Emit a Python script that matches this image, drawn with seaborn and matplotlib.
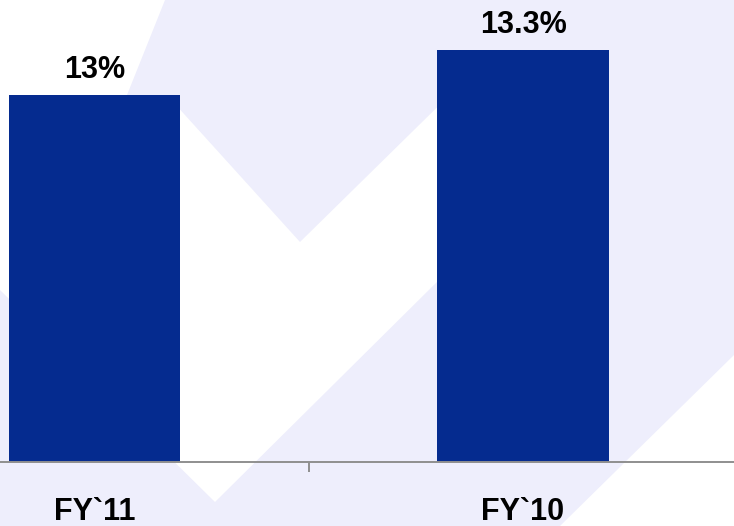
import matplotlib
matplotlib.use("Agg")
import matplotlib.pyplot as plt
from matplotlib.patches import Polygon
import seaborn as sns
import pandas as pd

# ---- data ----
categories = ["FY`11", "FY`10"]
values = [13.0, 13.3]
value_labels = ["13%", "13.3%"]

BAR_COLOR = "#052B8F"
BG_COLOR = "#EEEEFC"

sns.set_style("white")
plt.rcParams["font.family"] = ["Liberation Sans", "DejaVu Sans"]

W, H = 734, 526
fig = plt.figure(figsize=(W / 100, H / 100), dpi=100)
fig.patch.set_facecolor(BG_COLOR)

def px(points):
    return [(x / W, 1 - y / H) for x, y in points]

# background watermark (white chevron bands)
wm_main = [(0, 0), (165, 0), (125, 100), (175, 104), (300, 242), (470, 75),
           (560, 160), (215, 502), (0, 290)]
wm_corner = [(734, 355), (734, 526), (560, 526)]
for poly in (wm_main, wm_corner):
    fig.patches.append(Polygon(px(poly), closed=True, transform=fig.transFigure,
                               facecolor="white", edgecolor="none", zorder=-5))

ax = fig.add_axes([0, 64 / H, 1, 462 / H])
ax.set_zorder(1)
ax.patch.set_alpha(0)

df = pd.DataFrame({"cat": categories, "val": values})
sns.barplot(data=df, x="cat", y="val", order=categories, color=BAR_COLOR,
            saturation=1, width=0.4, linewidth=0, ax=ax)

ax.set_xlim(-0.2205, 1.4924)
ax.set_ylim(10.553, 13.633)

for i, (v, lab) in enumerate(zip(values, value_labels)):
    ax.annotate(lab, xy=(i, v), xytext=(0, 12.5), textcoords="offset points",
                ha="center", va="baseline", fontsize=22, fontweight="bold",
                color="black")

for s in ("top", "right", "left"):
    ax.spines[s].set_visible(False)
ax.spines["bottom"].set_color("#8f8f8f")
ax.spines["bottom"].set_linewidth(1.4)

ax.set_xticks([0, 1])
ax.set_xticklabels(categories, fontsize=22, fontweight="bold", color="black")
ax.tick_params(axis="x", which="major", length=0, pad=25)
ax.set_xticks([0.5], minor=True)
ax.tick_params(axis="x", which="minor", length=7, width=1.4, color="#8f8f8f",
               direction="out", bottom=True)
ax.set_yticks([])
ax.set_xlabel("")
ax.set_ylabel("")

fig.savefig("out.png", dpi=100, facecolor=BG_COLOR)
